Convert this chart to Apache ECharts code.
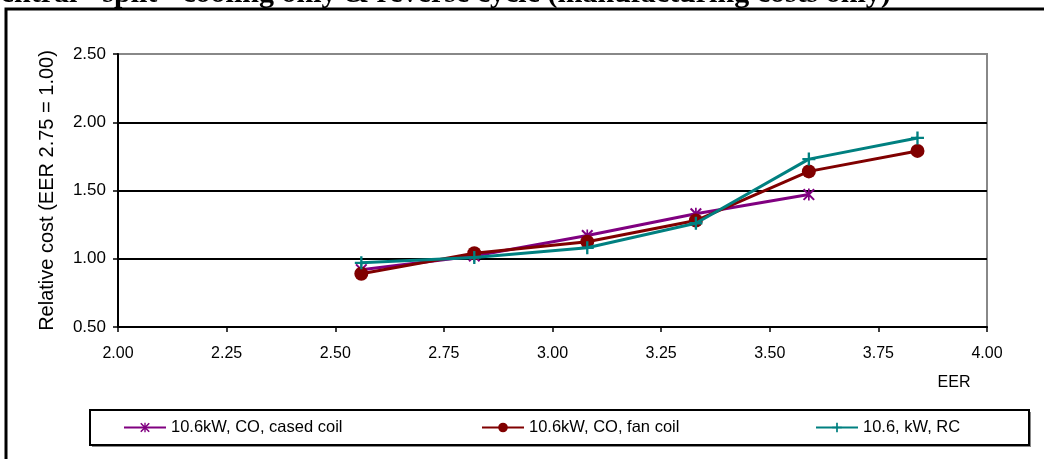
<!DOCTYPE html>
<html>
<head>
<meta charset="utf-8">
<script src="https://cdn.jsdelivr.net/npm/echarts@6/dist/echarts.min.js"></script>
<style>
html,body{margin:0;padding:0;background:#fff;}
#chart{width:1044px;height:459px;}
</style>
</head>
<body>
<div id="chart"></div>
<script>
const titleText = 'Central - split - cooling only & reverse cycle (manufacturing costs only)';
const seriesNames = ['10.6kW, CO, cased coil', '10.6kW, CO, fan coil', '10.6, kW, RC'];
const eer = [2.56, 2.82, 3.08, 3.33, 3.59, 3.84];
const casedCoil = [0.92, 1.02, 1.17, 1.33, 1.47];
const fanCoil = [0.89, 1.04, 1.125, 1.28, 1.64, 1.79];
const reverseCycle = [0.97, 1.01, 1.08, 1.26, 1.73, 1.885];
const xTicks = [2.00, 2.25, 2.50, 2.75, 3.00, 3.25, 3.50, 3.75, 4.00];
const yTicks = [0.50, 1.00, 1.50, 2.00, 2.50];

const FONT = "'Liberation Sans', Arial, sans-serif";
const starPath = 'path://M0,1.2L1.2,0L10,8.8L8.8,10Z M8.8,0L10,1.2L1.2,10L0,8.8Z M4.3,0H5.7V10H4.3Z';
const plusPath = 'path://M4.1,0H5.9V4.1H10V5.9H5.9V10H4.1V5.9H0V4.1H4.1Z';

function pairs(vals){ return vals.map((v,i)=>[eer[i], v]); }

const chart = echarts.init(document.getElementById('chart'), null, {renderer:'canvas'});

const legendBase = {
  top: 414, itemWidth: 42, itemHeight: 12,
  textStyle: {fontFamily: FONT, fontSize: 16.5, color: '#000', padding: [7, 0, 0, 0]},
  selectedMode: false
};

chart.setOption({
  animation: false,
  backgroundColor: '#fff',
  grid: {left: 118, right: 57, top: 54, bottom: 132, show: true, borderColor: '#888', borderWidth: 2, backgroundColor: 'transparent'},
  xAxis: {
    type: 'value', min: xTicks[0], max: xTicks[xTicks.length-1], interval: 0.25,
    axisLine: {show: true, lineStyle: {color: '#000', width: 2}},
    axisTick: {show: true, length: 5, lineStyle: {color: '#000', width: 1.5}},
    axisLabel: {fontFamily: FONT, fontSize: 16, color: '#000', margin: 19, formatter: v => v.toFixed(2)},
    splitLine: {show: false}
  },
  yAxis: {
    type: 'value', min: yTicks[0], max: yTicks[yTicks.length-1], interval: 0.5,
    name: 'Relative cost (EER 2.75 = 1.00)', nameLocation: 'middle', nameGap: 61,
    nameTextStyle: {fontFamily: FONT, fontSize: 20, color: '#000'},
    axisLine: {show: true, lineStyle: {color: '#000', width: 2}},
    axisTick: {show: true, length: 5, lineStyle: {color: '#000', width: 1.5}},
    axisLabel: {fontFamily: FONT, fontSize: 17, color: '#000', margin: 12, formatter: v => v.toFixed(2)},
    splitLine: {show: true, lineStyle: {color: ['#000','#000','#000','#000','#888'], width: 2}}
  },
  legend: [
    Object.assign({}, legendBase, {left: 118, data: [seriesNames[0]]}),
    Object.assign({}, legendBase, {left: 476, data: [seriesNames[1]]}),
    Object.assign({}, legendBase, {left: 810, data: [seriesNames[2]]})
  ],
  graphic: [
    {type: 'text', left: -21, top: -21, z: 1, style: {text: titleText, font: "bold 30px 'Liberation Serif', 'Times New Roman', serif", fill: '#000'}},
    {type: 'rect', z: 2, shape: {x: 6, y: 9, width: 1200, height: 700}, style: {fill: 'none', stroke: '#000', lineWidth: 3}},
    {type: 'rect', z: -1, shape: {x: 92, y: 412, width: 939, height: 35}, style: {fill: '#888'}},
    {type: 'rect', z: -1, shape: {x: 90, y: 410, width: 939, height: 35}, style: {fill: '#fff', stroke: '#000', lineWidth: 2}},
    {type: 'text', x: 954, y: 383, style: {text: 'EER', font: "16px 'Liberation Sans', Arial, sans-serif", fill: '#000', align: 'center', verticalAlign: 'middle'}}
  ],
  series: [
    {name: seriesNames[0], type: 'line', data: pairs(casedCoil), symbol: starPath, symbolSize: 12,
      lineStyle: {color: '#800080', width: 3}, itemStyle: {color: '#800080'}, z: 3},
    {name: seriesNames[1], type: 'line', data: pairs(fanCoil), symbol: 'circle', symbolSize: 14,
      lineStyle: {color: '#800000', width: 3}, itemStyle: {color: '#800000'}, z: 4},
    {name: seriesNames[2], type: 'line', data: pairs(reverseCycle), symbol: plusPath, symbolSize: 13,
      lineStyle: {color: '#008080', width: 3}, itemStyle: {color: '#008080'}, z: 5}
  ]
});
</script>
</body>
</html>
